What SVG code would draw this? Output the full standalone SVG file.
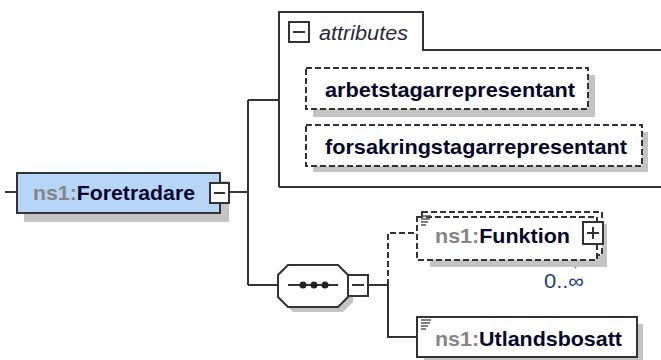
<svg xmlns="http://www.w3.org/2000/svg" width="661" height="360" viewBox="0 0 661 360">
<style>
.ln{fill:none;stroke:#333;stroke-width:2}
.dl{fill:none;stroke:#333;stroke-width:2;stroke-dasharray:6,3}
.box{fill:#fff;stroke:#333;stroke-width:2}
.dbox{fill:#fff;stroke:#333;stroke-width:2;stroke-dasharray:6,3}
.sh{fill:#c4c4c4}
.t{font-family:"Liberation Sans",Arial,sans-serif;font-weight:bold;font-size:21px;fill:#06062a}
.ns{fill:#858585}
.it{font-family:"Liberation Sans",Arial,sans-serif;font-style:italic;font-size:20px;fill:#2a2a3a}
.ic{stroke:#555;stroke-width:1.3}
</style>
<rect width="661" height="360" fill="#fff"/>
<g id="connectors">
<path class="ln" d="M5 192H17M229 192H248M248 100V285M248 100H279M248 285H278M368 285H388M388 285V337H417"/>
<path class="dl" d="M388 285V233H417"/>
<path d="M566 254Q572 262 580 260M580 262L575 268" fill="none" stroke="#555" stroke-width="1.2" stroke-dasharray="3,2"/>
</g>
<g id="node-foretradare">
<rect class="sh" x="24" y="181" width="205" height="41"/>
<rect x="17" y="173" width="203" height="40" fill="#b7d5f7" stroke="#333" stroke-width="2"/>
<text class="t" x="33" y="200" textLength="162" lengthAdjust="spacingAndGlyphs"><tspan class="ns">ns1:</tspan>Foretradare</text>
<rect class="box" x="210" y="183" width="19" height="20"/>
<path class="ln" d="M214 193H225"/>
</g>
<g id="attributes">
<path class="ln" d="M279 187V12H423V50H662M279 187H662"/>
<rect class="box" x="289" y="22" width="20" height="20"/>
<path class="ln" d="M293 32H305"/>
<text class="it" x="319" y="40" textLength="89" lengthAdjust="spacingAndGlyphs">attributes</text>
</g>
<g id="attr-arbetstagarrepresentant">
<rect class="sh" x="313" y="75" width="282" height="42"/>
<rect class="dbox" x="306" y="68" width="282" height="41"/>
<text class="t" x="325" y="97" textLength="250" lengthAdjust="spacingAndGlyphs">arbetstagarrepresentant</text>
</g>
<g id="attr-forsakringstagarrepresentant">
<rect class="sh" x="313" y="132" width="335" height="40"/>
<rect class="dbox" x="306" y="125" width="336" height="41"/>
<text class="t" x="325" y="154" textLength="302" lengthAdjust="spacingAndGlyphs">forsakringstagarrepresentant</text>
</g>
<g id="sequence">
<polygon class="sh" points="293,270 343,270 353,280 353,302 343,312 293,312 283,302 283,280"/>
<polygon class="box" points="288,265 338,265 348,275 348,297 338,307 288,307 278,297 278,275"/>
<path class="ln" d="M288 285H338"/>
<circle cx="303" cy="285" r="3.5" fill="#222"/>
<circle cx="314" cy="285" r="3.5" fill="#222"/>
<circle cx="325" cy="285" r="3.5" fill="#222"/>
<rect class="box" x="348" y="275" width="20" height="21"/>
<path class="ln" d="M352 285H364"/>
</g>
<g id="node-funktion">
<rect class="sh" x="430" y="224" width="177" height="43"/>
<rect class="dbox" x="422" y="212" width="180" height="43"/>
<rect class="dbox" x="417" y="217" width="180" height="43"/>
<path class="ic" d="M421 216H431M421 219H430M421 222H428M421 225H426"/>
<text class="t" x="435" y="243" textLength="135" lengthAdjust="spacingAndGlyphs"><tspan class="ns">ns1:</tspan>Funktion</text>
<rect class="box" x="583" y="222" width="20" height="22"/>
<path class="ln" d="M587 233H599M593 227V239"/>
<text x="544" y="288" font-family="Liberation Sans,Arial,sans-serif" font-size="20" fill="#1f3f78" textLength="40" lengthAdjust="spacingAndGlyphs">0..∞</text>
</g>
<g id="node-utlandsbosatt">
<rect class="sh" x="424" y="324" width="219" height="40"/>
<rect class="box" x="417" y="317" width="220" height="40"/>
<path class="ic" d="M421 320H431M421 323H430M421 326H428M421 329H426"/>
<text class="t" x="435" y="346" textLength="187" lengthAdjust="spacingAndGlyphs"><tspan class="ns">ns1:</tspan>Utlandsbosatt</text>
</g>
</svg>
